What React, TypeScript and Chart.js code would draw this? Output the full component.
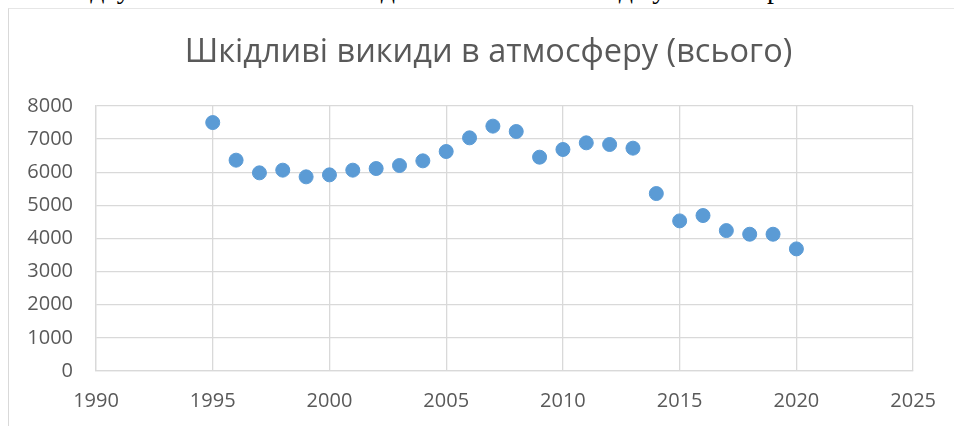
import React, { useEffect, useRef } from "react";
import { Chart, registerables } from "chart.js";

Chart.register(...registerables);

const years = [
  1995, 1996, 1997, 1998, 1999, 2000, 2001, 2002, 2003, 2004, 2005, 2006, 2007,
  2008, 2009, 2010, 2011, 2012, 2013, 2014, 2015, 2016, 2017, 2018, 2019, 2020,
];
const emissions = [
  7500, 6365, 5982, 6063, 5861, 5921, 6063, 6112, 6203, 6344, 6626, 7039, 7392,
  7230, 6455, 6687, 6888, 6838, 6727, 5357, 4532, 4693, 4239, 4129, 4129, 3686,
];
const chartTitle = "Шкідливі викиди в атмосферу (всього)";
const xRange = { min: 1990, max: 2025, step: 5 };
const yRange = { min: 0, max: 8000, step: 1000 };
const topLine =
  "ністю відсутності статистичних даних є лінійне згладжування вер";

const textColor = "#595959";
const gridColor = "#d9d9d9";

const centeredTitle = {
  id: "centeredTitle",
  afterDraw(chart: any) {
    const ctx = chart.ctx;
    ctx.save();
    ctx.font = "normal 32.5px 'Open Sans'";
    ctx.fillStyle = textColor;
    ctx.textAlign = "center";
    ctx.textBaseline = "middle";
    ctx.fillText(chartTitle, 488.5, 52.5);
    ctx.restore();
  },
};

export default function App() {
  const canvasRef = useRef<HTMLCanvasElement | null>(null);

  useEffect(() => {
    if (!canvasRef.current) return;
    const chart = new Chart(canvasRef.current, {
      type: "scatter",
      data: {
        datasets: [
          {
            label: chartTitle,
            data: years.map((y, i) => ({ x: y, y: emissions[i] })),
            backgroundColor: "#5b9bd5",
            borderColor: "#5b9bd5",
            borderWidth: 1,
            pointRadius: 7,
            pointHoverRadius: 7,
          },
        ],
      },
      plugins: [centeredTitle],
      options: {
        responsive: false,
        animation: false,
        layout: { padding: { top: 106, left: 27, right: 40, bottom: 12 } },
        plugins: {
          legend: { display: false },
          tooltip: { enabled: false },
          title: { display: false },
        },
        scales: {
          x: {
            type: "linear",
            min: xRange.min,
            max: xRange.max,
            afterFit: (scale: any) => {
              scale.height = 43;
            },
            ticks: {
              stepSize: xRange.step,
              color: textColor,
              font: { family: "'Open Sans'", size: 20 },
              padding: 18,
              maxRotation: 0,
              callback: (v: any) => String(v),
            },
            grid: { color: gridColor, lineWidth: 1.3, drawTicks: false },
            border: { display: true, color: gridColor, width: 1.3 },
          },
          y: {
            min: yRange.min,
            max: yRange.max,
            afterFit: (scale: any) => {
              scale.width = 69;
            },
            ticks: {
              stepSize: yRange.step,
              color: textColor,
              font: { family: "'Open Sans'", size: 20 },
              padding: 23,
              callback: (v: any) => String(v),
            },
            grid: { color: gridColor, lineWidth: 1.3, drawTicks: false },
            border: { display: true, color: gridColor, width: 1.3 },
          },
        },
      },
    });
    return () => chart.destroy();
  }, []);

  return (
    <div
      style={{
        position: "fixed",
        left: 0,
        top: 0,
        width: 954,
        height: 426,
        overflow: "hidden",
        background: "#ffffff",
      }}
    >
      <div
        style={{
          position: "absolute",
          left: -6,
          top: -25,
          whiteSpace: "nowrap",
          fontFamily: "'Liberation Serif', 'Times New Roman', serif",
          fontSize: 28,
          lineHeight: "28px",
          color: "#000",
        }}
      >
        {topLine}
      </div>
      <div
        style={{
          position: "absolute",
          left: 8,
          top: 8,
          width: 960,
          height: 440,
          borderLeft: "1px solid #d9d9d9",
          borderTop: "1px solid #e6e6e6",
        }}
      />
      <canvas
        ref={canvasRef}
        width={954}
        height={426}
        style={{ position: "absolute", left: 0, top: 0, width: 954, height: 426 }}
      />
    </div>
  );
}
